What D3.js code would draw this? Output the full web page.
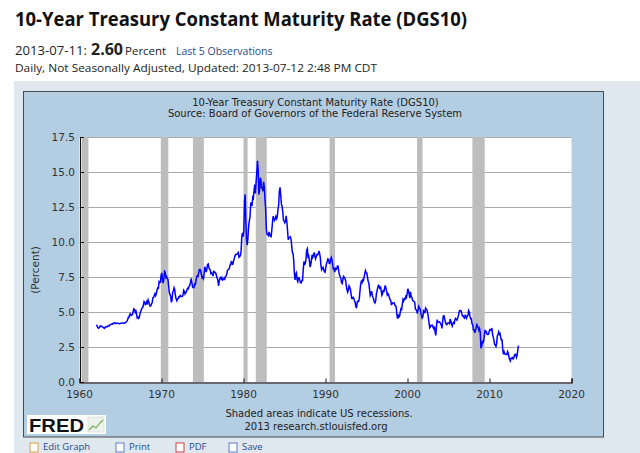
<!DOCTYPE html>
<html>
<head>
<meta charset="utf-8">
<script src="https://d3js.org/d3.v7.min.js"></script>
<style>
  body { margin: 0; background: #fff; }
  svg { display: block; }
</style>
</head>
<body>
<svg id="chart" width="640" height="453"></svg>
<script>
// monthly averages of DGS10, first value is Jan 1962
var startYear = 1962;
var rates1960s = [
  4.08, 4.04, 3.93, 3.84, 3.87, 3.91, 4.01, 3.98, 3.98, 3.93, 3.92, 3.86,
  3.83, 3.92, 3.93, 3.97, 3.93, 3.99, 4.02, 4.00, 4.08, 4.11, 4.12, 4.13,
  4.17, 4.15, 4.22, 4.23, 4.20, 4.17, 4.19, 4.19, 4.20, 4.19, 4.15, 4.18,
  4.19, 4.21, 4.21, 4.20, 4.21, 4.21, 4.20, 4.25, 4.29, 4.35, 4.45, 4.62,
  4.61, 4.83, 4.87, 4.75, 4.78, 4.81, 5.02, 5.22, 5.18, 5.01, 5.16, 4.84,
  4.58, 4.63, 4.54, 4.59, 4.85, 5.02, 5.16, 5.28, 5.30, 5.48, 5.75, 5.70,
  5.53, 5.56, 5.74, 5.64, 5.87, 5.72, 5.50, 5.42, 5.46, 5.58, 5.70, 6.03,
  6.04, 6.19, 6.30, 6.17, 6.32, 6.57, 6.72, 6.69, 7.16, 7.10, 7.14, 7.65
];
var rates1970s = [
  7.79, 7.24, 7.07, 7.39, 7.91, 7.84, 7.46, 7.53, 7.39, 7.33, 6.84, 6.39,
  6.24, 6.11, 5.70, 5.83, 6.39, 6.52, 6.73, 6.58, 6.14, 5.93, 5.81, 5.93,
  5.95, 6.08, 6.07, 6.19, 6.13, 6.11, 6.11, 6.21, 6.55, 6.48, 6.28, 6.36,
  6.46, 6.64, 6.71, 6.67, 6.85, 6.90, 7.13, 7.40, 7.09, 6.79, 6.73, 6.74,
  6.99, 6.96, 7.21, 7.51, 7.58, 7.54, 7.81, 8.04, 8.04, 7.90, 7.68, 7.43,
  7.50, 7.39, 7.73, 8.23, 8.06, 7.86, 8.06, 8.40, 8.43, 8.14, 8.05, 8.00,
  7.74, 7.79, 7.73, 7.56, 7.90, 7.86, 7.83, 7.77, 7.59, 7.41, 7.29, 6.87,
  7.21, 7.39, 7.46, 7.37, 7.46, 7.28, 7.33, 7.40, 7.34, 7.52, 7.58, 7.69,
  7.96, 8.03, 8.04, 8.15, 8.35, 8.46, 8.64, 8.41, 8.42, 8.64, 8.81, 9.01,
  9.10, 9.10, 9.12, 9.18, 9.25, 8.91, 8.95, 9.03, 9.33, 10.30, 10.65, 10.39
];
var rates1980s = [
  10.80, 12.90, 13.40, 11.47, 10.18, 9.78, 10.25, 11.10, 11.51, 11.75, 12.68, 12.84,
  12.57, 13.19, 13.12, 13.68, 14.10, 13.47, 14.28, 14.94, 15.80, 15.15, 13.39, 13.72,
  14.59, 14.43, 13.86, 13.87, 13.62, 14.30, 13.95, 13.06, 12.34, 10.91, 10.55, 10.54,
  10.46, 10.72, 10.51, 10.40, 10.38, 10.85, 11.38, 11.85, 11.65, 11.54, 11.69, 11.83,
  11.67, 11.84, 12.32, 12.63, 13.60, 13.90, 13.36, 12.72, 12.52, 12.16, 11.57, 11.50,
  11.38, 11.51, 11.86, 11.43, 10.85, 10.16, 10.31, 10.33, 10.37, 10.24, 9.78, 9.26,
  9.19, 8.70, 7.78, 7.30, 7.71, 7.80, 7.30, 7.17, 7.45, 7.43, 7.25, 7.11,
  7.08, 7.25, 7.25, 8.02, 8.61, 8.40, 8.45, 8.76, 9.42, 9.52, 8.86, 8.99,
  8.67, 8.21, 8.37, 8.72, 9.09, 8.92, 9.06, 9.26, 8.98, 8.80, 8.96, 9.11,
  9.09, 9.17, 9.36, 9.18, 8.86, 8.28, 8.02, 8.11, 8.19, 8.01, 7.87, 7.84
];
var rates1990s = [
  8.21, 8.47, 8.59, 8.79, 8.76, 8.48, 8.47, 8.75, 8.89, 8.72, 8.39, 8.08,
  8.09, 7.85, 8.11, 8.04, 8.07, 8.28, 8.27, 7.90, 7.65, 7.53, 7.42, 7.09,
  7.03, 7.34, 7.54, 7.48, 7.39, 7.26, 6.84, 6.59, 6.42, 6.59, 6.87, 6.77,
  6.60, 6.26, 5.98, 5.97, 6.04, 5.96, 5.81, 5.68, 5.36, 5.33, 5.72, 5.77,
  5.75, 5.97, 6.48, 6.97, 7.18, 7.10, 7.30, 7.24, 7.46, 7.74, 7.96, 7.81,
  7.78, 7.47, 7.20, 7.06, 6.63, 6.17, 6.28, 6.49, 6.20, 6.04, 5.93, 5.71,
  5.65, 5.81, 6.27, 6.51, 6.74, 6.91, 6.87, 6.64, 6.83, 6.53, 6.20, 6.30,
  6.58, 6.42, 6.69, 6.89, 6.71, 6.49, 6.22, 6.30, 6.21, 6.03, 5.88, 5.81,
  5.54, 5.57, 5.65, 5.64, 5.65, 5.50, 5.46, 5.34, 4.81, 4.53, 4.83, 4.65,
  4.72, 5.00, 5.23, 5.18, 5.54, 5.90, 5.79, 5.94, 5.92, 6.11, 6.03, 6.28
];
var rates2000s = [
  6.66, 6.52, 6.26, 5.99, 6.44, 6.10, 6.05, 5.83, 5.80, 5.74, 5.72, 5.24,
  5.16, 5.10, 4.89, 5.14, 5.39, 5.28, 5.24, 4.97, 4.73, 4.57, 4.65, 5.09,
  5.04, 4.91, 5.28, 5.21, 5.16, 4.93, 4.65, 4.26, 3.87, 3.94, 4.05, 4.03,
  4.05, 3.90, 3.81, 3.96, 3.57, 3.33, 3.98, 4.45, 4.27, 4.29, 4.30, 4.27,
  4.15, 4.08, 3.83, 4.35, 4.72, 4.73, 4.50, 4.28, 4.13, 4.10, 4.19, 4.23,
  4.22, 4.17, 4.50, 4.34, 4.14, 4.00, 4.18, 4.26, 4.20, 4.46, 4.54, 4.47,
  4.42, 4.57, 4.72, 4.99, 5.11, 5.11, 5.09, 4.88, 4.72, 4.73, 4.60, 4.56,
  4.76, 4.72, 4.56, 4.69, 4.75, 5.10, 5.00, 4.67, 4.52, 4.53, 4.15, 4.10,
  3.74, 3.74, 3.51, 3.68, 3.88, 4.10, 4.01, 3.89, 3.69, 3.81, 3.53, 2.42,
  2.52, 2.87, 2.82, 2.93, 3.29, 3.72, 3.56, 3.59, 3.40, 3.39, 3.40, 3.59
];
var rates2010s = [
  3.73, 3.69, 3.73, 3.85, 3.42, 3.20, 3.01, 2.70, 2.65, 2.54, 2.76, 3.29,
  3.39, 3.58, 3.41, 3.46, 3.17, 3.00, 3.00, 2.30, 1.98, 2.15, 2.01, 1.98,
  1.97, 1.97, 2.17, 2.05, 1.80, 1.62, 1.50, 1.68, 1.72, 1.75, 1.65, 1.72,
  1.91, 1.98, 1.96, 1.76, 1.93, 2.30, 2.60
];

// NBER recessions
var recessionStart = ["1960-04-01", "1969-12-01", "1973-11-01", "1980-01-01", "1981-07-01", "1990-07-01", "2001-03-01", "2007-12-01"];
var recessionEnd   = ["1961-02-01", "1970-11-01", "1975-03-01", "1980-07-01", "1982-11-01", "1991-03-01", "2001-11-01", "2009-06-01"];

var xTickYears = [1960, 1970, 1980, 1990, 2000, 2010, 2020];
var yTickValues = [0, 2.5, 5, 7.5, 10, 12.5, 15, 17.5];

var svg = d3.select("#chart");
var font = "'DejaVu Sans', Verdana, sans-serif";
var headFont = "'Open Sans', 'Noto Sans', sans-serif";

var allRates = rates1960s.concat(rates1970s, rates1980s, rates1990s, rates2000s, rates2010s);
var series = allRates.map(function (v, i) {
  return { date: new Date(startYear + Math.floor(i / 12), i % 12, 15), value: v };
});

// ---- page header ----
svg.append("text")
  .attr("x", 15).attr("y", 26)
  .attr("font-family", headFont).attr("font-weight", "bold").attr("font-size", 19)
  .attr("textLength", 452).attr("lengthAdjust", "spacingAndGlyphs")
  .attr("fill", "#111")
  .text("10-Year Treasury Constant Maturity Rate (DGS10)");

var line2 = svg.append("text").attr("y", 55).attr("font-family", headFont).attr("fill", "#222");
line2.append("tspan").attr("x", 15).attr("font-size", 12)
  .attr("textLength", 72).attr("lengthAdjust", "spacingAndGlyphs").text("2013-07-11:");
line2.append("tspan").attr("x", 91).attr("font-size", 16).attr("font-weight", "bold").text("2.60");
line2.append("tspan").attr("x", 125).attr("font-size", 11.5).text("Percent");
line2.append("tspan").attr("x", 176).attr("font-size", 10.5).attr("fill", "#2a4b8d").text("Last 5 Observations");

svg.append("text")
  .attr("x", 15).attr("y", 72)
  .attr("font-family", headFont).attr("font-size", 11.5)
  .attr("textLength", 362).attr("lengthAdjust", "spacingAndGlyphs")
  .attr("fill", "#222")
  .text("Daily, Not Seasonally Adjusted, Updated: 2013-07-12 2:48 PM CDT");

// ---- panels ----
svg.append("rect").attr("x", 14).attr("y", 81).attr("width", 626).attr("height", 372).attr("fill", "#dfe7ef");
svg.append("rect").attr("x", 23.5).attr("y", 91.5).attr("width", 580).attr("height", 345.5)
  .attr("fill", "#b3cde3").attr("stroke", "#4a4a4a").attr("stroke-width", 1);

// chart title
svg.append("text").attr("x", 315.5).attr("y", 106).attr("text-anchor", "middle")
  .attr("font-family", font).attr("font-size", 10).attr("fill", "#222")
  .text("10-Year Treasury Constant Maturity Rate (DGS10)");
svg.append("text").attr("x", 315).attr("y", 117).attr("text-anchor", "middle")
  .attr("font-family", font).attr("font-size", 10).attr("fill", "#222")
  .text("Source: Board of Governors of the Federal Reserve System");

// ---- plot ----
var plot = { left: 79.5, right: 571.5, top: 137, bottom: 382 };

var x = d3.scaleTime()
  .domain([new Date(1960, 0, 1), new Date(2020, 0, 1)])
  .range([plot.left, plot.right]);
var y = d3.scaleLinear()
  .domain([0, 17.5])
  .range([plot.bottom, plot.top]);

svg.append("rect")
  .attr("x", plot.left).attr("y", plot.top)
  .attr("width", plot.right - plot.left).attr("height", plot.bottom - plot.top)
  .attr("fill", "#fff");

// gridlines
svg.append("g")
  .selectAll("line")
  .data(yTickValues.filter(function (d) { return d > 0; }))
  .join("line")
  .attr("x1", plot.left).attr("x2", plot.right)
  .attr("y1", function (d) { return Math.round(y(d)) + 0.5; })
  .attr("y2", function (d) { return Math.round(y(d)) + 0.5; })
  .attr("stroke", "#aaaaaa").attr("stroke-width", 1);

// recession bars
svg.append("g")
  .selectAll("rect")
  .data(recessionStart.map(function (s, i) { return [new Date(s), new Date(recessionEnd[i])]; }))
  .join("rect")
  .attr("x", function (d) { return x(d[0]); })
  .attr("width", function (d) { return x(d[1]) - x(d[0]); })
  .attr("y", plot.top)
  .attr("height", plot.bottom - plot.top)
  .attr("fill", "#bdbdbd");

// the series
var line = d3.line()
  .x(function (d) { return x(d.date); })
  .y(function (d) { return y(d.value); });

svg.append("path")
  .datum(series)
  .attr("d", line)
  .attr("fill", "none")
  .attr("stroke", "#0000ff")
  .attr("stroke-width", 1.5)
  .attr("stroke-linejoin", "miter");

// axes
var yAxis = d3.axisRight(y).tickValues(yTickValues).tickSize(4).tickFormat("");
var yg = svg.append("g").attr("transform", "translate(" + (plot.left + 0.5) + ",0)").call(yAxis);
yg.select(".domain").attr("stroke", "#111");
yg.selectAll(".tick line").attr("stroke", "#111");

svg.append("g")
  .selectAll("text")
  .data(yTickValues)
  .join("text")
  .attr("x", 75)
  .attr("y", function (d) { return y(d) + 4; })
  .attr("text-anchor", "end")
  .attr("font-family", font).attr("font-size", 10.5).attr("fill", "#333")
  .text(function (d) { return d.toFixed(1); });

var xAxis = d3.axisTop(x)
  .tickValues(xTickYears.map(function (yr) { return new Date(yr, 0, 1); }))
  .tickSize(4)
  .tickFormat("");
var xg = svg.append("g").attr("transform", "translate(0," + (plot.bottom + 0.5) + ")").call(xAxis);
xg.select(".domain").attr("stroke", "#200").attr("stroke-width", 1.2);
xg.selectAll(".tick line").attr("stroke", "#111");

svg.append("g")
  .selectAll("text")
  .data(xTickYears)
  .join("text")
  .attr("x", function (d) { return x(new Date(d, 0, 1)); })
  .attr("y", 398)
  .attr("text-anchor", "middle")
  .attr("font-family", font).attr("font-size", 10.5).attr("fill", "#333")
  .text(function (d) { return d; });

svg.append("text")
  .attr("transform", "translate(39,270) rotate(-90)")
  .attr("text-anchor", "middle")
  .attr("font-family", font).attr("font-size", 10.5).attr("fill", "#333")
  .text("(Percent)");

// footer
svg.append("text").attr("x", 319).attr("y", 417).attr("text-anchor", "middle")
  .attr("font-family", font).attr("font-size", 10).attr("fill", "#222")
  .text("Shaded areas indicate US recessions.");
svg.append("text").attr("x", 316).attr("y", 430).attr("text-anchor", "middle")
  .attr("font-family", font).attr("font-size", 10).attr("fill", "#222")
  .text("2013 research.stlouisfed.org");

// FRED logo
var logo = svg.append("g");
logo.append("rect").attr("x", 27).attr("y", 415).attr("width", 79).attr("height", 19).attr("fill", "#fff");
logo.append("text").attr("x", 29).attr("y", 432)
  .attr("font-family", "'Liberation Sans', Arial, sans-serif").attr("font-weight", "bold")
  .attr("font-size", 18).attr("textLength", 55).attr("lengthAdjust", "spacingAndGlyphs")
  .attr("fill", "#111").text("FRED");
logo.append("rect").attr("x", 88).attr("y", 417).attr("width", 16).attr("height", 15)
  .attr("fill", "#eef2ee").attr("stroke", "#c8d0c8").attr("stroke-width", 0.5);
logo.append("path").attr("d", "M89,430 L93,426 L96,428 L100,423 L103,420")
  .attr("fill", "none").attr("stroke", "#7bab5a").attr("stroke-width", 1.2);

// links under the chart
var links = [
  { x: 30, label: "Edit Graph", color: "#e0a030" },
  { x: 116, label: "Print", color: "#5a7fc0" },
  { x: 176, label: "PDF", color: "#d04040" },
  { x: 229, label: "Save", color: "#5a7fc0" }
];
var lg = svg.append("g").selectAll("g").data(links).join("g");
lg.append("rect")
  .attr("x", function (d) { return d.x; }).attr("y", 443)
  .attr("width", 8).attr("height", 9)
  .attr("fill", "#fff").attr("stroke", function (d) { return d.color; }).attr("stroke-width", 1);
lg.append("text")
  .attr("x", function (d) { return d.x + 13; }).attr("y", 450)
  .attr("font-family", headFont).attr("font-size", 9.5).attr("fill", "#2a4b8d")
  .text(function (d) { return d.label; });
</script>
</body>
</html>
